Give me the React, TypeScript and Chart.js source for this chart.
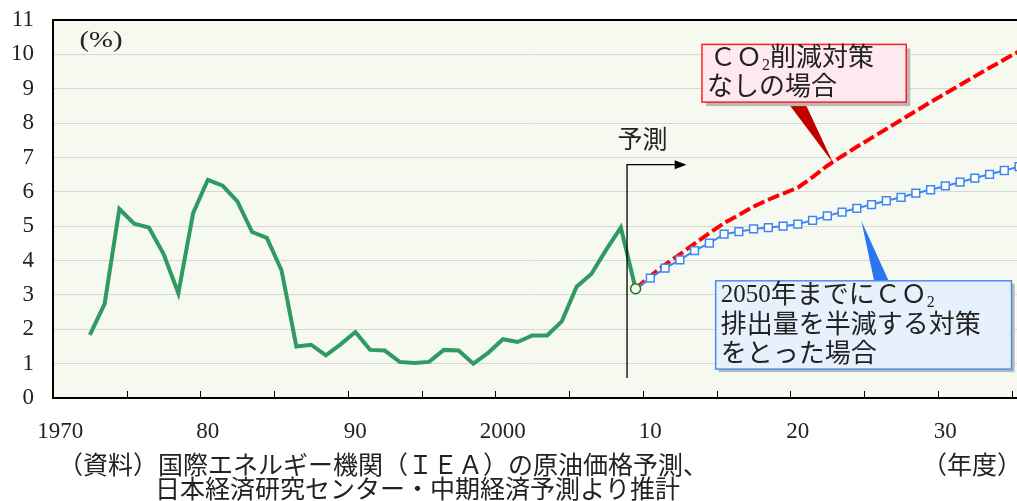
import React, { useEffect, useRef } from 'react';
import { Chart, registerables } from 'chart.js';

Chart.register(...registerables);

// ---- data ----
const historyYears = [
  1972, 1973, 1974, 1975, 1976, 1977, 1978, 1979, 1980, 1981,
  1982, 1983, 1984, 1985, 1986, 1987, 1988, 1989, 1990, 1991,
  1992, 1993, 1994, 1995, 1996, 1997, 1998, 1999, 2000, 2001,
  2002, 2003, 2004, 2005, 2006, 2007, 2008, 2009,
];
const historyRate = [
  1.84, 2.74, 5.5, 5.07, 4.96, 4.19, 3.05, 5.38, 6.35, 6.18,
  5.72, 4.83, 4.66, 3.71, 1.5, 1.55, 1.24, 1.56, 1.92, 1.4,
  1.38, 1.05, 1.02, 1.05, 1.4, 1.38, 1.0, 1.31, 1.71, 1.63,
  1.82, 1.82, 2.23, 3.24, 3.61, 4.31, 4.96, 3.18,
];
const forecastYears = [
  2009, 2010, 2011, 2012, 2013, 2014, 2015, 2016, 2017, 2018,
  2019, 2020, 2021, 2022, 2023, 2024, 2025, 2026, 2027, 2028,
  2029, 2030, 2031, 2032, 2033, 2034, 2035,
];
const noPolicyRate = [
  3.18, 3.55, 3.88, 4.18, 4.49, 4.8, 5.09, 5.33, 5.57, 5.77,
  5.95, 6.12, 6.43, 6.76, 7.04, 7.31, 7.57, 7.83, 8.09, 8.35,
  8.61, 8.86, 9.11, 9.36, 9.61, 9.85, 10.09,
];
const halvingRate = [
  3.18, 3.49, 3.78, 4.02, 4.29, 4.51, 4.77, 4.84, 4.92, 4.96,
  5.0, 5.06, 5.17, 5.3, 5.41, 5.52, 5.63, 5.74, 5.84, 5.96,
  6.06, 6.17, 6.28, 6.4, 6.51, 6.62, 6.73,
];
const xLabelYears = [1970, 1980, 1990, 2000, 2010, 2020, 2030];
const xLabels = ['1970', '80', '90', '2000', '10', '20', '30'];
const xTickMarkYears = [1975, 1980, 1985, 1990, 1995, 2000, 2005, 2010, 2015, 2020, 2025, 2030, 2035];

// ---- layout / style constants ----
const W = 1017;
const H = 501;
const CENTER = 0.5; // fiscal-year points sit in the middle of the year
const PLOT_BG = '#f5f9f0';
const SERIF = "'Liberation Serif', 'Noto Sans CJK JP', serif";
const JP = "'Liberation Serif', 'Noto Sans CJK JP', sans-serif";
const TEXT = '#222222';

function runs(ctx: CanvasRenderingContext2D, parts: { t: string; size: number; dy?: number }[], x: number, y: number) {
  let cx = x;
  for (const p of parts) {
    ctx.font = `${p.size}px ${JP}`;
    ctx.fillText(p.t, cx, y + (p.dy || 0));
    cx += ctx.measureText(p.t).width;
  }
}

const zeroPad = (s: any) => {
  s.paddingTop = 0;
  s.paddingBottom = 0;
  s.paddingLeft = 0;
  s.paddingRight = 0;
};

const decorPlugin = {
  id: 'decor',
  beforeDraw(chart: any) {
    const { ctx, chartArea: a } = chart;
    ctx.save();
    ctx.fillStyle = PLOT_BG;
    ctx.fillRect(a.left, a.top, a.right - a.left, a.bottom - a.top);
    ctx.restore();
  },
  afterDraw(chart: any) {
    const { ctx, chartArea: a } = chart;
    const xs = chart.scales.x;
    const ys = chart.scales.y;
    const px = (v: number) => xs.getPixelForValue(v);
    const py = (v: number) => ys.getPixelForValue(v);
    ctx.save();

    // top frame
    ctx.strokeStyle = '#000';
    ctx.lineWidth = 2;
    ctx.beginPath();
    ctx.moveTo(a.left - 1, a.top);
    ctx.lineTo(a.right, a.top);
    ctx.stroke();

    // inner tick marks on x axis
    ctx.lineWidth = 1;
    for (const yr of xTickMarkYears) {
      const x = Math.round(px(yr)) + 0.5;
      ctx.beginPath();
      ctx.moveTo(x, a.bottom);
      ctx.lineTo(x, a.bottom - 7);
      ctx.stroke();
    }

    // forecast arrow
    const ax = px(2008.92);
    const ayTop = py(6.79);
    ctx.lineWidth = 1.3;
    ctx.beginPath();
    ctx.moveTo(ax, py(0.58));
    ctx.lineTo(ax, ayTop);
    ctx.lineTo(px(2012.2), ayTop);
    ctx.stroke();
    ctx.fillStyle = '#000';
    ctx.beginPath();
    ctx.moveTo(px(2012.95), ayTop);
    ctx.lineTo(px(2012.15), ayTop - 4.5);
    ctx.lineTo(px(2012.15), ayTop + 4.5);
    ctx.closePath();
    ctx.fill();

    ctx.fillStyle = TEXT;
    ctx.textBaseline = 'middle';
    ctx.textAlign = 'left';
    ctx.font = `25px ${JP}`;
    ctx.fillText('予測', px(2008.28), py(7.46));

    // (%)
    ctx.font = `23px ${SERIF}`;
    ctx.save();
    ctx.translate(px(1971.8), py(10.39));
    ctx.scale(1.25, 1);
    ctx.fillText('(%)', 0, 0);
    ctx.restore();

    // red callout
    {
      const l = px(2014.0), r = px(2027.85), t = py(10.29), b = py(8.61);
      ctx.fillStyle = '#c00000';
      ctx.beginPath();
      ctx.moveTo(px(2019.7), b - 2);
      ctx.lineTo(px(2020.9), b - 2);
      ctx.lineTo(px(2022.9), py(6.83));
      ctx.closePath();
      ctx.fill();
      ctx.fillStyle = '#b8b8b8';
      ctx.fillRect(l + 4, t + 4, r - l, b - t);
      ctx.fillStyle = '#ffe9ef';
      ctx.fillRect(l, t, r - l, b - t);
      ctx.strokeStyle = '#ff1f1f';
      ctx.lineWidth = 1.5;
      ctx.strokeRect(l, t, r - l, b - t);
      ctx.fillStyle = TEXT;
      runs(ctx, [
        { t: 'ＣＯ', size: 26 },
        { t: '2', size: 16, dy: 6 },
        { t: '削減対策', size: 26 },
      ], l + 8, t + 15);
      runs(ctx, [{ t: 'なしの場合', size: 26 }], l + 5, t + 44);
    }

    // blue callout
    {
      const l = px(2014.93), r = px(2034.99), t = py(3.41), b = py(0.84);
      ctx.fillStyle = '#2b74f2';
      ctx.beginPath();
      ctx.moveTo(px(2025.7), t + 2);
      ctx.lineTo(px(2026.72), t + 2);
      ctx.lineTo(px(2024.81), py(5.15));
      ctx.closePath();
      ctx.fill();
      ctx.fillStyle = '#b8b8b8';
      ctx.fillRect(l + 3, t + 3, r - l, b - t);
      ctx.fillStyle = '#e7f0fd';
      ctx.fillRect(l, t, r - l, b - t);
      ctx.strokeStyle = '#4b8cf0';
      ctx.lineWidth = 1.5;
      ctx.strokeRect(l, t, r - l, b - t);
      ctx.fillStyle = TEXT;
      runs(ctx, [
        { t: '2050', size: 25 },
        { t: '年までにＣＯ', size: 26 },
        { t: '2', size: 16, dy: 7 },
      ], l + 5, t + 15);
      runs(ctx, [{ t: '排出量を半減する対策', size: 26 }], l + 5, t + 45);
      runs(ctx, [{ t: 'をとった場合', size: 26 }], l + 5, t + 74);
    }

    // footnotes
    ctx.fillStyle = TEXT;
    ctx.font = `25px ${JP}`;
    ctx.fillText('（資料）国際エネルギー機関（ＩＥＡ）の原油価格予測、', 58, 467);
    ctx.fillText('日本経済研究センター・中期経済予測より推計', 155, 491);
    ctx.fillText('（年度）', 922, 467);

    ctx.restore();
  },
};

export default function App() {
  const ref = useRef<HTMLCanvasElement | null>(null);

  useEffect(() => {
    if (!ref.current) return;
    const chart = new Chart(ref.current, {
      type: 'line',
      data: {
        datasets: [
          {
            label: 'start',
            data: [{ x: 2009 + CENTER, y: 3.18 }],
            showLine: false,
            pointRadius: 5,
            pointStyle: 'circle',
            pointBackgroundColor: '#f5fbf2',
            pointBorderColor: '#1c7a22',
            pointBorderWidth: 1.5,
            order: 0,
          },
          {
            label: 'history',
            data: historyYears.map((yr, i) => ({ x: yr + CENTER, y: historyRate[i] })),
            borderColor: '#2f9a62',
            borderWidth: 4,
            pointRadius: 0,
            tension: 0,
            borderJoinStyle: 'miter',
            order: 1,
          },
          {
            label: 'halving',
            data: forecastYears.map((yr, i) => ({ x: yr + CENTER, y: halvingRate[i] })),
            borderColor: '#3d86f5',
            borderWidth: 2,
            pointStyle: 'rect',
            pointRadius: (c: any) => (c.dataIndex === 0 ? 0 : 5.5),
            pointBackgroundColor: '#ffffff',
            pointBorderColor: '#3d86f5',
            pointBorderWidth: 1.5,
            tension: 0,
            order: 2,
          },
          {
            label: 'noPolicy',
            data: forecastYears.map((yr, i) => ({ x: yr + CENTER, y: noPolicyRate[i] })),
            borderColor: '#ff0000',
            borderWidth: 4,
            borderDash: [12, 4],
            pointRadius: 0,
            tension: 0,
            order: 3,
          },
        ],
      },
      options: {
        responsive: false,
        animation: false,
        devicePixelRatio: 1,
        layout: { autoPadding: false, padding: { top: 20, left: 0, right: 0, bottom: 0 } },
        plugins: { legend: { display: false }, tooltip: { enabled: false } },
        scales: {
          x: {
            type: 'linear',
            min: 1970,
            max: 2035.36,
            afterFit: (s: any) => { s.height = 103; zeroPad(s); },
            afterBuildTicks: (s: any) => {
              s.ticks = xLabelYears.map((v) => ({ value: v + CENTER }));
            },
            ticks: {
              autoSkip: false,
              maxRotation: 0,
              padding: 20,
              color: TEXT,
              font: { family: SERIF, size: 23 },
              callback: (_v: any, i: number) => xLabels[i],
            },
            grid: { color: 'rgba(0,0,0,0)', drawTicks: false },
            border: { display: true, color: '#000', width: 2 },
          },
          y: {
            min: 0,
            max: 11,
            afterFit: (s: any) => { s.width = 53; zeroPad(s); },
            ticks: {
              stepSize: 1,
              padding: 19,
              color: TEXT,
              font: { family: SERIF, size: 23 },
            },
            grid: { color: '#d7d7d7', lineWidth: 1, drawTicks: false },
            border: { display: true, color: '#000', width: 2 },
          },
        },
      },
      plugins: [decorPlugin],
    } as any);
    return () => chart.destroy();
  }, []);

  return (
    <div style={{ position: 'absolute', left: 0, top: 0, width: W, height: H, background: '#fff' }}>
      <canvas ref={ref} width={W} height={H} style={{ display: 'block', width: W, height: H }} />
    </div>
  );
}
